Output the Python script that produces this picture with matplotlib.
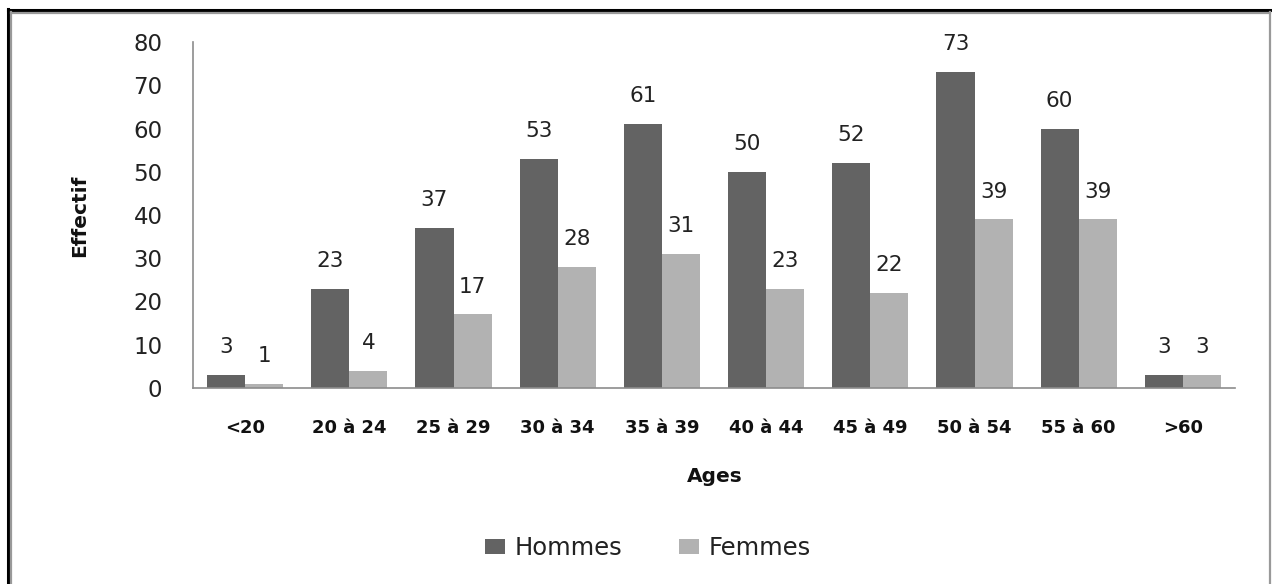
import matplotlib
matplotlib.use("Agg")
import matplotlib.pyplot as plt
import numpy as np
from matplotlib.lines import Line2D
from matplotlib.patches import Patch

# Age groups and counts per sex
categories = ["<20", "20 à 24", "25 à 29", "30 à 34", "35 à 39",
              "40 à 44", "45 à 49", "50 à 54", "55 à 60", ">60"]
hommes = [3, 23, 37, 53, 61, 50, 52, 73, 60, 3]
femmes = [1, 4, 17, 28, 31, 23, 22, 39, 39, 3]
y_ticks = [0, 10, 20, 30, 40, 50, 60, 70, 80]

c_hommes = "#636363"
c_femmes = "#b2b2b2"

W, H = 1272, 584
fig = plt.figure(figsize=(W / 100, H / 100), dpi=100)
fig.patch.set_facecolor("white")

ax = fig.add_axes([193 / W, 1 - 388 / H, (1235 - 193) / W, (388 - 42) / H])

x = np.arange(len(categories))
bw = 0.365
b1 = ax.bar(x - bw / 2, hommes, bw, color=c_hommes, label="Hommes")
b2 = ax.bar(x + bw / 2, femmes, bw, color=c_femmes, label="Femmes")

label_font = dict(fontsize=15.5, color="#222222", family="DejaVu Sans")
for rects, vals in ((b1, hommes), (b2, femmes)):
    for r, v in zip(rects, vals):
        ax.annotate(str(v), (r.get_x() + r.get_width() / 2, v),
                    xytext=(0, 20), textcoords="offset points",
                    ha="center", va="center", **label_font)

ax.set_xlim(-0.5, len(categories) - 0.5)
ax.set_ylim(0, 80)
ax.set_yticks(y_ticks)
ax.set_yticklabels([str(t) for t in y_ticks], fontsize=16.5, color="#222222")
ax.set_xticks(x)
ax.set_xticklabels(categories, fontsize=13, fontweight="bold", color="#111111")
ax.tick_params(axis="y", length=0, pad=22)
ax.tick_params(axis="x", length=0, pad=22)

for s in ("top", "right"):
    ax.spines[s].set_visible(False)
for s in ("left", "bottom"):
    ax.spines[s].set_color("#8c8c8c")
    ax.spines[s].set_linewidth(1.2)

fig.text(715 / W, 1 - 476 / H, "Ages", ha="center", va="center",
         fontsize=14.5, fontweight="bold", color="#111111")
fig.text(80 / W, 1 - 216 / H, "Effectif", ha="center", va="center",
         rotation=90, fontsize=14.5, fontweight="bold", color="#111111")

handles = [Patch(facecolor=c_hommes, label="Hommes"),
           Patch(facecolor=c_femmes, label="Femmes")]
fig.legend(handles=handles, loc="center", bbox_to_anchor=(648 / W, 1 - 548 / H),
           ncol=2, frameon=False, fontsize=17.5, handlelength=0.85,
           handleheight=0.55, handletextpad=0.4, columnspacing=2.3,
           labelcolor="#222222", borderpad=0, borderaxespad=0)

# Double frame around the chart area
fig.add_artist(Line2D([8 / W, 8 / W], [0, 1 - 9 / H], color="black",
                      lw=2.2, transform=fig.transFigure))
fig.add_artist(Line2D([8 / W, 1], [1 - 10 / H, 1 - 10 / H], color="black",
                      lw=2.2, transform=fig.transFigure))
fig.add_artist(Line2D([11 / W, 11 / W], [0, 1 - 12 / H], color="#999999",
                      lw=1.6, transform=fig.transFigure))
fig.add_artist(Line2D([11 / W, 1270 / W], [1 - 12.5 / H, 1 - 12.5 / H], color="#999999",
                      lw=1.6, transform=fig.transFigure))
fig.add_artist(Line2D([1270 / W, 1270 / W], [0, 1 - 12 / H], color="#999999",
                      lw=1.6, transform=fig.transFigure))

fig.savefig("out.png", dpi=100, facecolor="white")
